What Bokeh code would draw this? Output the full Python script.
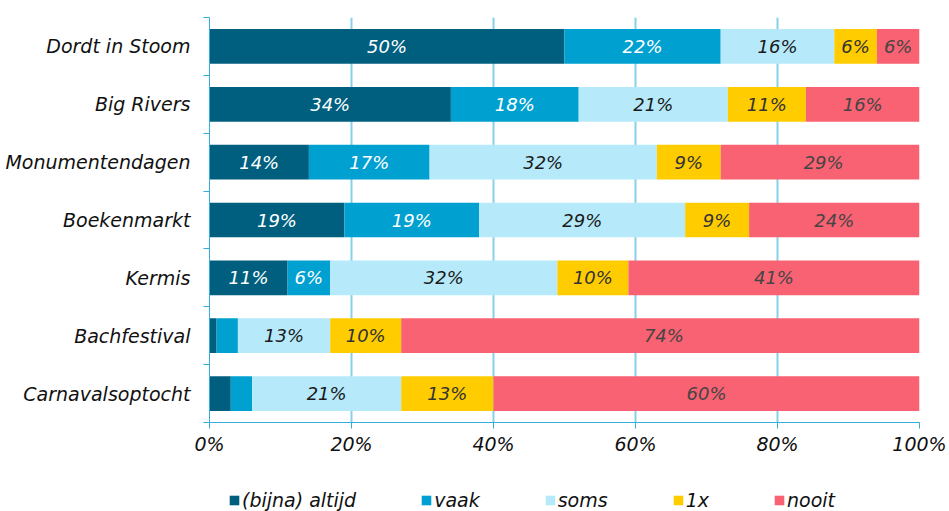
from bokeh.plotting import figure
from bokeh.layouts import column
from bokeh.models import (Range1d, FixedTicker, NumeralTickFormatter, Legend,
                          LegendItem, ColumnDataSource)
from bokeh.embed import file_html
from bokeh.resources import INLINE

categories = ["Dordt in Stoom", "Big Rivers", "Monumentendagen", "Boekenmarkt",
              "Kermis", "Bachfestival", "Carnavalsoptocht"]
series_names = ["(bijna) altijd", "vaak", "soms", "1x", "nooit"]
altijd = [50, 34, 14, 19, 11, 1, 3]
vaak = [22, 18, 17, 19, 6, 3, 3]
soms = [16, 21, 32, 29, 32, 13, 21]
eenmaal = [6, 11, 9, 9, 10, 10, 13]
nooit = [6, 16, 29, 24, 41, 74, 60]
x_ticks = [0, 0.2, 0.4, 0.6, 0.8, 1.0]

colors = ["#005F7F", "#00A0D1", "#B6EAFA", "#FFCC00", "#F96272"]
label_colors = ["white", "white", "#1a1a1a", "#333333", "#454545"]

FONT = "DejaVu Sans"
AXIS_COL = "#35ADDB"
GRID_COL = "#86D0EA"

n = len(categories)
ypos = [n - i for i in range(n)]

p = figure(width=949, height=470, output_backend="svg", toolbar_location=None,
           x_range=Range1d(0, 1), y_range=Range1d(0.5, n + 0.5),
           min_border_left=209, min_border_right=30, min_border_top=17,
           min_border_bottom=48)
p.outline_line_color = None
p.background_fill_color = "white"

all_series = [altijd, vaak, soms, eenmaal, nooit]
left = [0.0] * n
for s, vals in enumerate(all_series):
    l = list(left)
    r = [l[i] + vals[i] / 100 for i in range(n)]
    src = ColumnDataSource(dict(y=ypos, left=l, right=r,
                                xc=[(l[i] + r[i]) / 2 for i in range(n)],
                                lab=[f"{v}%" if v >= 5 else "" for v in vals]))
    p.hbar(y="y", left="left", right="right", height=0.6, source=src,
           fill_color=colors[s], line_color=None)
    p.text(x="xc", y="y", text="lab", source=src, text_align="center",
           text_baseline="middle", text_font_size="18px", text_font_style="italic",
           text_color=label_colors[s], text_font={"value": FONT})
    left = r

# x axis
xa = p.xaxis[0]
xa.ticker = FixedTicker(ticks=x_ticks, minor_ticks=[])
xa.formatter = NumeralTickFormatter(format="0%")
xa.axis_line_color = AXIS_COL
xa.major_tick_line_color = AXIS_COL
xa.major_tick_in = 0
xa.major_tick_out = 6
xa.minor_tick_line_color = None
xa.major_label_text_font = FONT
xa.major_label_text_font_style = "italic"
xa.major_label_text_font_size = "19px"
xa.major_label_text_color = "#111111"
xa.major_label_standoff = 4

# y axis: labels at centers, ticks at band boundaries
ya = p.yaxis[0]
ya.ticker = FixedTicker(ticks=ypos, minor_ticks=[k + 0.5 for k in range(n + 1)])
ya.major_label_overrides = {ypos[i]: categories[i] for i in range(n)}
ya.axis_line_color = AXIS_COL
ya.major_tick_line_color = None
ya.major_tick_in = 0
ya.major_tick_out = 0
ya.minor_tick_line_color = AXIS_COL
ya.minor_tick_in = 0
ya.minor_tick_out = 6
ya.major_label_text_font = FONT
ya.major_label_text_font_style = "italic"
ya.major_label_text_font_size = "19px"
ya.major_label_text_color = "#111111"
ya.major_label_standoff = 13

p.ygrid.grid_line_color = None
p.xgrid.grid_line_color = GRID_COL
p.xgrid.grid_line_width = 2
p.xgrid.ticker = FixedTicker(ticks=x_ticks)

# legend strip below the chart (its frame is aligned with the chart's frame)
p2 = figure(width=949, height=41, output_backend="svg", toolbar_location=None,
            x_axis_location=None, y_axis_location=None,
            min_border=0, x_range=Range1d(0, 1), y_range=Range1d(0, 1))
p2.outline_line_color = None
p2.grid.grid_line_color = None
swatches = [p2.hbar(y=[0], left=[0], right=[0], height=0.6,
                    fill_color=colors[i], line_color=None) for i in range(5)]
legend = Legend(items=[LegendItem(label=series_names[i], renderers=[swatches[i]])
                       for i in range(5)],
                orientation="horizontal", location=(19, 0),
                glyph_width=12, glyph_height=12, label_standoff=2, spacing=64,
                padding=0, margin=0, border_line_color=None,
                background_fill_alpha=0,
                label_text_font=FONT, label_text_font_style="italic",
                label_text_font_size="19px", label_text_color="#111111")
p2.add_layout(legend, "center")

open("out.html", "w").write(file_html(column(p, p2, spacing=0), INLINE))
